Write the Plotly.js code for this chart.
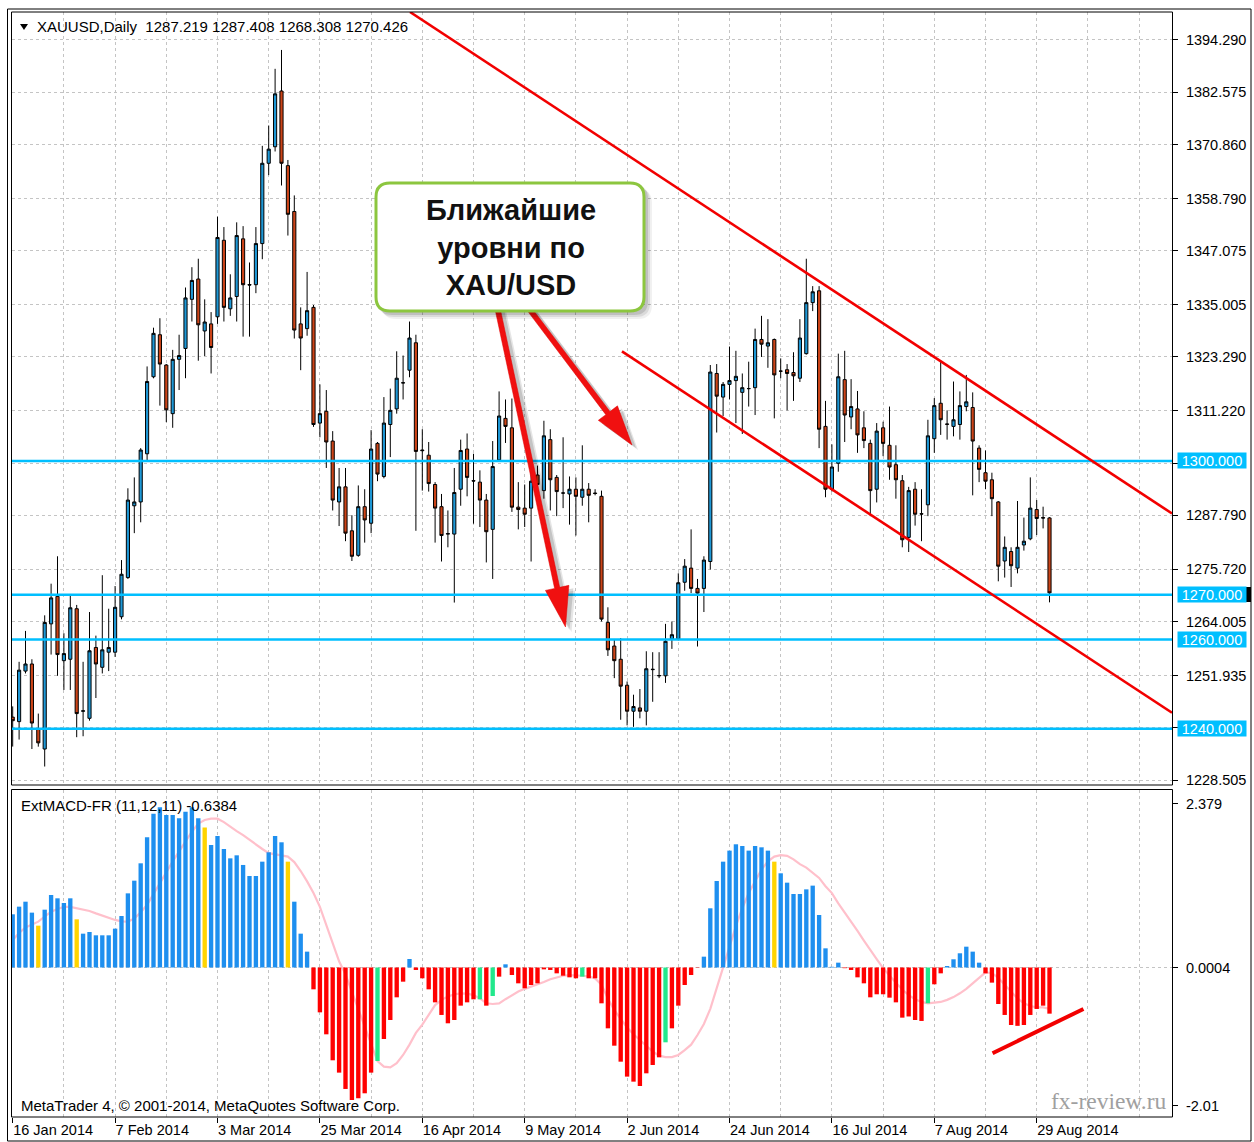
<!DOCTYPE html>
<html>
<head>
<meta charset="utf-8">
<script src="https://cdn.plot.ly/plotly-3.0.1.min.js"></script>
<style>html,body{margin:0;padding:0;background:#fff;}#chart{width:1254px;height:1142px;}</style>
</head>
<body>
<div id="chart"></div>
<script>
// ---------------- DATA ----------------
const openP = [1242.6,1241.59,1252.91,1254.50,1239.90,1235.45,1263.49,1269.63,1255.24,1255.56,1266.88,1243.92,1242.33,1258.20,1253.76,1257.14,1257.14,1265.08,1273.86,1289.94,1290.80,1301.59,1318.84,1328.26,1321.48,1310.58,1322.75,1325.19,1336.19,1340.74,1329.10,1330.69,1332.28,1349.42,1334.07,1336.83,1349.74,1339.50,1339.47,1348.68,1366.67,1370.37,1382.86,1366.14,1355.87,1330.69,1329.63,1334.39,1308.47,1311.11,1304.44,1290.80,1294.18,1284.34,1278.84,1289.74,1286.03,1303.92,1296.51,1308.15,1311.64,1317.46,1320.32,1326.46,1302.44,1301.27,1294.71,1289.74,1283.60,1283.60,1293.65,1302.65,1295.56,1295.24,1291.22,1284.66,1300.21,1309.52,1307.41,1289.63,1289.42,1289.42,1296.83,1293.34,1304.76,1296.30,1292.80,1292.59,1293.65,1291.85,1293.65,1292.80,1292.06,1263.81,1258.52,1255.56,1249.74,1243.92,1244.66,1243.92,1253.23,1251.85,1251.85,1260.10,1260.10,1272.81,1275.98,1271.43,1271.43,1277.46,1319.58,1314.29,1317.14,1317.99,1315.35,1316.19,1316.40,1327.20,1325.72,1327.20,1320.11,1320.42,1319.79,1318.52,1324.02,1335.45,1338.10,1307.73,1293.65,1299.47,1318.20,1309.84,1311.64,1307.41,1303.92,1293.65,1307.41,1303.49,1299.15,1295.56,1282.86,1293.65,1288.15,1290.16,1304.97,1312.91,1308.26,1307.73,1308.15,1312.17,1311.96,1302.86,1297.35,1295.77,1290.80,1277.57,1279.69,1275.98,1281.16,1282.54,1289.10,1287.30,1287.219];
const highP = [1245.0,1254.99,1261.91,1255.56,1243.39,1265.40,1272.49,1278.63,1261.38,1270.05,1267.73,1254.99,1266.14,1260.85,1274.39,1266.88,1271.96,1277.78,1293.86,1296.30,1302.86,1321.16,1329.84,1331.96,1321.69,1324.87,1328.26,1338.84,1343.39,1345.29,1336.19,1333.33,1354.71,1352.38,1341.80,1353.44,1352.59,1344.45,1352.38,1370.58,1375.13,1387.83,1392.06,1367.41,1359.47,1334.39,1342.33,1334.92,1317.14,1315.87,1306.67,1298.41,1298.41,1287.83,1294.50,1293.65,1306.88,1304.23,1314.29,1316.19,1324.55,1323.60,1331.22,1328.26,1307.09,1304.23,1295.24,1292.59,1288.89,1298.41,1304.76,1306.14,1301.59,1297.88,1292.59,1304.44,1315.56,1313.76,1313.97,1295.24,1294.71,1298.41,1298.94,1308.99,1307.09,1296.83,1305.29,1296.51,1296.30,1303.49,1295.03,1293.65,1293.34,1267.20,1260.10,1260.32,1250.58,1247.62,1248.89,1257.35,1257.14,1257.14,1263.49,1264.02,1274.81,1278.00,1284.66,1273.55,1278.63,1321.48,1321.69,1317.67,1325.61,1324.66,1319.58,1322.22,1329.63,1332.49,1331.75,1327.41,1322.96,1321.69,1324.34,1331.75,1345.29,1339.15,1339.15,1313.44,1303.70,1324.02,1324.66,1318.31,1315.66,1311.11,1304.76,1308.47,1308.78,1312.17,1303.49,1296.83,1294.18,1295.24,1293.65,1309.21,1314.07,1322.54,1311.32,1317.78,1315.56,1319.26,1315.35,1303.49,1302.33,1297.35,1291.01,1283.07,1280.64,1291.01,1287.30,1296.30,1291.22,1289.74,1287.408];
const lowP = [1236.0,1237.57,1252.38,1235.45,1235.98,1231.53,1256.61,1251.85,1248.68,1248.68,1238.10,1238.31,1241.80,1246.88,1252.38,1252.91,1256.09,1264.50,1273.55,1283.81,1286.24,1299.79,1318.50,1312.38,1308.68,1307.41,1315.87,1318.52,1331.22,1322.44,1323.49,1319.58,1330.69,1331.22,1332.49,1331.22,1327.83,1327.83,1337.57,1345.18,1364.02,1369.31,1361.69,1350.48,1327.41,1320.32,1328.04,1307.62,1305.29,1298.41,1288.89,1285.40,1282.01,1277.57,1278.52,1281.69,1283.81,1295.45,1296.09,1300.85,1310.58,1313.76,1318.73,1284.34,1293.34,1293.12,1281.69,1277.46,1280.64,1268.26,1289.95,1292.06,1285.93,1285.19,1277.25,1273.55,1299.79,1304.02,1288.57,1284.66,1285.19,1277.46,1289.95,1291.53,1288.89,1287.62,1289.42,1285.72,1283.28,1289.95,1286.24,1292.28,1264.02,1256.30,1251.33,1242.01,1240.74,1240.42,1242.33,1240.74,1246.03,1251.33,1250.27,1257.88,1259.79,1270.90,1270.37,1258.41,1266.14,1275.66,1306.35,1310.05,1313.76,1308.47,1306.03,1312.17,1310.27,1323.28,1320.85,1309.52,1318.52,1311.32,1313.44,1317.67,1323.81,1333.55,1302.86,1291.85,1293.12,1297.57,1304.23,1307.09,1301.80,1302.86,1287.62,1290.69,1301.06,1295.77,1291.53,1280.64,1279.58,1285.50,1282.01,1287.62,1301.80,1305.82,1304.76,1305.50,1304.76,1311.11,1292.28,1295.24,1293.65,1287.62,1273.02,1273.86,1271.75,1274.81,1279.90,1282.22,1283.39,1284.87,1268.308];
const closeP = [1241.8,1253.12,1254.50,1241.27,1236.83,1263.81,1269.31,1256.61,1256.83,1267.09,1243.39,1244.00,1257.46,1254.50,1257.67,1258.20,1267.20,1274.60,1291.22,1290.80,1302.43,1317.78,1328.57,1321.69,1311.43,1322.75,1323.60,1336.51,1340.42,1330.48,1331.11,1325.40,1350.05,1334.39,1336.51,1350.48,1339.47,1339.40,1348.68,1366.67,1369.84,1382.22,1366.67,1355.24,1329.31,1327.52,1333.65,1308.15,1310.58,1304.23,1291.22,1294.18,1283.81,1278.63,1289.74,1286.77,1302.65,1297.04,1308.47,1311.32,1318.52,1317.50,1327.52,1302.12,1302.30,1294.92,1289.42,1283.28,1283.70,1292.91,1302.33,1296.30,1295.50,1291.22,1284.13,1298.73,1310.05,1307.73,1289.63,1289.10,1288.05,1295.45,1294.71,1305.61,1295.77,1293.12,1292.80,1293.65,1292.06,1293.65,1292.28,1292.70,1264.55,1257.67,1255.24,1249.53,1243.92,1244.97,1243.92,1253.44,1253.30,1251.90,1259.58,1261.06,1272.70,1276.41,1271.43,1270.37,1277.78,1319.90,1314.50,1317.14,1317.99,1318.94,1316.40,1316.20,1327.20,1326.14,1326.46,1319.26,1320.10,1319.58,1319.05,1327.52,1335.45,1337.88,1307.09,1293.65,1298.63,1318.84,1310.27,1312.17,1305.82,1304.55,1293.34,1306.67,1303.92,1298.62,1295.77,1282.33,1293.34,1288.05,1288.10,1305.61,1312.38,1309.21,1308.20,1309.21,1312.38,1313.23,1304.44,1298.10,1295.45,1291.53,1276.41,1280.64,1276.51,1280.64,1282.01,1289.42,1287.09,1287.20,1270.426];

const macdHist = [0.772,0.883,0.955,0.796,0.607,0.839,1.052,1.004,0.936,1.004,0.699,0.491,0.515,0.467,0.467,0.467,0.564,0.747,1.076,1.260,1.512,1.889,2.232,2.325,2.213,2.213,2.165,2.262,2.325,2.165,2.030,1.778,1.909,1.720,1.584,1.628,1.488,1.328,1.328,1.536,1.672,1.909,1.817,1.536,0.955,0.491,0.230,-0.317,-0.651,-0.970,-1.347,-1.526,-1.763,-1.923,-1.899,-1.826,-1.526,-1.357,-1.038,-0.762,-0.433,-0.206,0.123,-0.036,-0.157,-0.317,-0.506,-0.689,-0.810,-0.762,-0.554,-0.506,-0.462,-0.462,-0.554,-0.414,-0.133,0.046,-0.109,-0.230,-0.302,-0.254,-0.230,-0.027,-0.036,-0.085,-0.119,-0.143,-0.157,-0.133,-0.157,-0.157,-0.520,-0.883,-1.135,-1.367,-1.584,-1.657,-1.720,-1.536,-1.415,-1.304,-1.086,-0.883,-0.554,-0.254,-0.109,-0.005,0.157,0.859,1.255,1.536,1.696,1.788,1.763,1.696,1.763,1.744,1.696,1.536,1.367,1.231,1.067,1.067,1.134,1.188,0.762,0.278,0.010,0.070,-0.010,-0.036,-0.143,-0.230,-0.433,-0.389,-0.389,-0.438,-0.506,-0.728,-0.711,-0.762,-0.776,-0.520,-0.244,-0.085,0.022,0.119,0.206,0.302,0.230,0.070,-0.085,-0.220,-0.530,-0.689,-0.835,-0.847,-0.835,-0.689,-0.602,-0.554,-0.670];
// histogram state per bar: B = up (blue), Y = weakening up (yellow), R = down (red), G = weakening down (green)
const macdState = [
  "BBBBY", "BBBBBY", "BBBBBBBBBBBBBBBBBBBY", "BBBBBBBBBBBBY", "BBB",
  "RRRRRRRRRRG", "RRRRB", "RRRRRRRRRRG", "RGRB", "RRRRRRRRRRRG", "RRRRRRRRRRRRG", "RRRRR",
  "BBBBBBBBBBBY", "BBBBBBBBBB", "RRRRRRRRRRRRRG", "RR", "BBBBBB", "RRRRRRRRRRR"
].join("").split("");
const macdSignal = [0.40,0.50,0.58,0.62,0.665,0.74,0.81,0.85,0.88,0.88,0.86,0.84,0.82,0.785,0.75,0.72,0.69,0.67,0.665,0.71,0.80,0.91,1.06,1.22,1.38,1.54,1.69,1.83,1.97,2.09,2.14,2.16,2.16,2.11,2.04,1.98,1.92,1.85,1.78,1.72,1.66,1.64,1.62,1.61,1.53,1.40,1.25,1.08,0.88,0.62,0.33,0.09,-0.10,-0.35,-0.62,-0.88,-1.12,-1.36,-1.44,-1.45,-1.39,-1.27,-1.12,-0.95,-0.83,-0.68,-0.545,-0.47,-0.42,-0.39,-0.375,-0.38,-0.40,-0.45,-0.52,-0.53,-0.52,-0.46,-0.40,-0.35,-0.31,-0.28,-0.25,-0.21,-0.17,-0.14,-0.12,-0.11,-0.11,-0.12,-0.13,-0.16,-0.25,-0.45,-0.62,-0.75,-0.87,-0.97,-1.05,-1.13,-1.22,-1.28,-1.30,-1.30,-1.27,-1.20,-1.12,-0.98,-0.82,-0.60,-0.30,0.0,0.30,0.60,0.86,1.08,1.25,1.42,1.54,1.61,1.63,1.62,1.57,1.50,1.45,1.38,1.30,1.18,1.08,0.93,0.80,0.665,0.53,0.39,0.25,0.12,-0.01,-0.12,-0.22,-0.32,-0.40,-0.46,-0.50,-0.52,-0.51,-0.50,-0.47,-0.43,-0.375,-0.31,-0.23,-0.15,-0.07,-0.08,-0.15,-0.25,-0.35,-0.45,-0.52,-0.56,-0.58,-0.58,-0.60];

const priceTicks = [1394.290,1382.575,1370.860,1358.790,1347.075,1335.005,1323.290,1311.220,1299.505,1287.790,1275.720,1264.005,1251.935,1240.220,1228.505];
const levels = [1300, 1270, 1260, 1240];
const dateLabels = ["16 Jan 2014","7 Feb 2014","3 Mar 2014","25 Mar 2014","16 Apr 2014","9 May 2014","2 Jun 2014","24 Jun 2014","16 Jul 2014","7 Aug 2014","29 Aug 2014"];
const dateLabelBars = [0,16,32,48,64,80,96,112,128,144,160];
const macdTicks = [2.379, 0, -2.01];
const macdTickText = ["2.379", "0.0004", "-2.01"];

// hand-drawn trend lines (bar index, value)
const upperTrend = {x: [62.08, 181.14], y: [1400.56, 1288.21]};
const lowerTrend = {x: [95.2, 181.14], y: [1324.53, 1243.58]};
const macdTrend = {x: [153.1, 167.3], y: [-1.245, -0.602]};

// ---------------- BUILD ----------------
const FONT = 'Liberation Sans, Arial, sans-serif';
const n = openP.length;
const idx = openP.map((_, i) => i);
const XR = [-0.109, 181.14];
const gridX = []; for (let g = 0; g <= 180; g += 8) gridX.push(g);
const stateColor = {B: '#1e8fef', Y: '#ffd400', R: '#ff0000', G: '#22e88c'};
const histColors = macdHist.map((v, i) => stateColor[macdState[i]] || (v >= 0 ? stateColor.B : stateColor.R));

// price tick labels hidden where the level labels cover them in the original
const coveredTicks = levels.map(l => priceTicks.reduce((a, b) => Math.abs(b - l) < Math.abs(a - l) ? b : a));
const priceTickText = priceTicks.map(v => coveredTicks.some(c => c === v && Math.abs(v - levels.find(l => Math.abs(l - v) < 1.5) || 99) < 1.5) ? '' : v.toFixed(3));

// pixel -> paper helpers (plot area: x 12..1172, y 12..1117)
const PL = 12, PR = 1172, PT = 12, PB = 1117;
const px = x => (x - PL) / (PR - PL);
const py = y => (PB - y) / (PB - PT);
const P = (x, y) => px(x).toFixed(5) + ',' + py(y).toFixed(5);

function rrect(x0, y0, x1, y1, r) {
  return 'M' + P(x0 + r, y0) + ' L' + P(x1 - r, y0) + ' Q' + P(x1, y0) + ' ' + P(x1, y0 + r) +
    ' L' + P(x1, y1 - r) + ' Q' + P(x1, y1) + ' ' + P(x1 - r, y1) +
    ' L' + P(x0 + r, y1) + ' Q' + P(x0, y1) + ' ' + P(x0, y1 - r) +
    ' L' + P(x0, y0 + r) + ' Q' + P(x0, y0) + ' ' + P(x0 + r, y0) + ' Z';
}
function arrowPath(tail, tip, hl, hw, sw, dx, dy) {
  dx = dx || 0; dy = dy || 0;
  const vx = tip[0] - tail[0], vy = tip[1] - tail[1];
  const L = Math.hypot(vx, vy), ux = vx / L, uy = vy / L, nx = uy, ny = -ux;
  const bx = tip[0] - hl * ux, by = tip[1] - hl * uy;
  const pts = [
    [tail[0] + sw * nx, tail[1] + sw * ny], [bx + sw * nx, by + sw * ny], [bx + hw * nx, by + hw * ny],
    [tip[0], tip[1]], [bx - hw * nx, by - hw * ny], [bx - sw * nx, by - sw * ny], [tail[0] - sw * nx, tail[1] - sw * ny]
  ];
  return 'M' + pts.map(p => P(p[0] + dx, p[1] + dy)).join(' L') + ' Z';
}

const traces = [
  {
    type: 'candlestick', x: idx, open: openP, high: highP, low: lowP, close: closeP,
    xaxis: 'x', yaxis: 'y', whiskerwidth: 0,
    increasing: {line: {color: '#000', width: 1}, fillcolor: '#1e98d6'},
    decreasing: {line: {color: '#000', width: 1}, fillcolor: '#cc4418'},
    hoverinfo: 'skip', showlegend: false
  },
  {
    type: 'scatter', mode: 'lines', x: idx, y: macdSignal, xaxis: 'x2', yaxis: 'y2',
    line: {color: '#ffc0cb', width: 2.2}, hoverinfo: 'skip', showlegend: false
  },
  {
    type: 'bar', x: idx, y: macdHist, xaxis: 'x3', yaxis: 'y3', width: 0.68,
    marker: {color: histColors, line: {width: 0}}, hoverinfo: 'skip', showlegend: false
  }
];

const gridStyle = {showgrid: true, gridcolor: '#c4c4c4', griddash: '3px,3px', gridwidth: 1, zeroline: false};
const shapes = [];
// zero line of MACD
shapes.push({type: 'line', xref: 'paper', yref: 'y2', x0: 0, x1: 1, y0: 0, y1: 0, layer: 'below', line: {color: '#c4c4c4', width: 1, dash: '3px,3px'}});
// support / resistance levels
levels.forEach(v => shapes.push({type: 'line', xref: 'paper', yref: 'y', x0: 0, x1: 1, y0: v, y1: v, line: {color: '#00bfff', width: 2.5}}));
// trend channel
[upperTrend, lowerTrend].forEach(t => shapes.push({type: 'line', xref: 'x', yref: 'y', x0: t.x[0], x1: t.x[1], y0: t.y[0], y1: t.y[1], line: {color: '#f20000', width: 2.6}}));
shapes.push({type: 'line', xref: 'x2', yref: 'y2', x0: macdTrend.x[0], x1: macdTrend.x[1], y0: macdTrend.y[0], y1: macdTrend.y[1], line: {color: '#f20000', width: 4}});
// frames
shapes.push({type: 'rect', xref: 'paper', yref: 'paper', x0: px(7.5), x1: px(1251), y0: py(1141), y1: py(9), line: {color: '#000', width: 1}});
shapes.push({type: 'rect', xref: 'paper', yref: 'paper', x0: px(11.5), x1: px(1172.5), y0: py(785), y1: py(12), line: {color: '#000', width: 1}});
shapes.push({type: 'rect', xref: 'paper', yref: 'paper', x0: px(11.5), x1: px(1172.5), y0: py(1117), y1: py(789.5), line: {color: '#000', width: 1}});
// current price marker (partially hidden label)
shapes.push({type: 'rect', xref: 'paper', yref: 'paper', x0: px(1245), x1: px(1251), y0: py(602), y1: py(587), fillcolor: '#000', line: {width: 0}});
// header triangle
shapes.push({type: 'path', xref: 'paper', yref: 'paper', path: 'M' + P(20, 24) + ' L' + P(28, 24) + ' L' + P(24, 30) + ' Z', fillcolor: '#000', line: {width: 0}});
// arrows with soft shadow
const arrows = [{tail: [497, 306], tip: [565.5, 627]}, {tail: [527, 306], tip: [632, 445]}];
arrows.forEach(a => {
  [[6, 5, 0.10], [4, 3, 0.14]].forEach(s => shapes.push({type: 'path', xref: 'paper', yref: 'paper', path: arrowPath(a.tail, a.tip, 40, 12.5, 3, s[0], s[1]), fillcolor: 'rgba(0,0,0,' + s[2] + ')', line: {width: 0}}));
  shapes.push({type: 'path', xref: 'paper', yref: 'paper', path: arrowPath(a.tail, a.tip, 40, 12, 2.6), fillcolor: '#f01010', line: {color: '#e00000', width: 0.5}});
});
// callout box with shadow
[[7, 0.06], [5, 0.09], [3, 0.12]].forEach(s => shapes.push({type: 'path', xref: 'paper', yref: 'paper', path: rrect(375 + s[0], 182 + s[0], 645 + s[0], 312 + s[0], 14), fillcolor: 'rgba(0,0,0,' + s[1] + ')', line: {width: 0}}));
shapes.push({type: 'path', xref: 'paper', yref: 'paper', path: rrect(376, 183, 644, 311, 14), fillcolor: '#ffffff', line: {color: '#8cc63f', width: 3}});

const annotations = [];
annotations.push({xref: 'paper', yref: 'paper', x: px(35), y: py(27), xanchor: 'left', yanchor: 'middle', showarrow: false,
  text: 'XAUUSD,Daily\u00a0 ' + [openP[n - 1], highP[n - 1], lowP[n - 1], closeP[n - 1]].map(v => v.toFixed(3)).join(' '),
  font: {family: FONT, size: 15, color: '#000'}});
annotations.push({xref: 'paper', yref: 'paper', x: px(19), y: py(805), xanchor: 'left', yanchor: 'middle', showarrow: false,
  text: 'ExtMACD-FR (11,12,11) -0.6384', font: {family: FONT, size: 15, color: '#000'}});
annotations.push({xref: 'paper', yref: 'paper', x: px(19), y: py(1105), xanchor: 'left', yanchor: 'middle', showarrow: false,
  text: 'MetaTrader 4, © 2001-2014, MetaQuotes Software Corp.', font: {family: FONT, size: 15, color: '#000'}});
annotations.push({xref: 'paper', yref: 'paper', x: px(1169), y: py(1101), xanchor: 'right', yanchor: 'middle', showarrow: false,
  text: 'fx-review.ru', font: {family: 'Liberation Serif, Times New Roman, serif', size: 23.5, color: '#a0a0a0'}});
annotations.push({xref: 'paper', yref: 'paper', x: px(511), y: py(247), xanchor: 'center', yanchor: 'middle', showarrow: false,
  text: '<b>Ближайшие<br>уровни по<br>XAU/USD</b>', align: 'center', font: {family: FONT, size: 29, color: '#111'}});
levels.forEach(v => annotations.push({xref: 'paper', yref: 'y', x: px(1177), y: v, xanchor: 'left', yanchor: 'middle', showarrow: false,
  text: v.toFixed(3), bgcolor: '#00bfff', width: 68, height: 15, borderpad: 0, align: 'center',
  font: {family: FONT, size: 14.5, color: '#ffffff'}}));

const layout = {
  width: 1254, height: 1142, margin: {l: PL, r: 1254 - PR, t: PT, b: 1142 - PB, pad: 0},
  paper_bgcolor: '#ffffff', plot_bgcolor: '#ffffff', showlegend: false, hovermode: false, dragmode: false,
  font: {family: FONT, size: 14.5, color: '#000'},
  xaxis: Object.assign({domain: [0, 1], anchor: 'y', range: XR, tickvals: gridX, showticklabels: false, ticks: '',
    showline: false, fixedrange: true, rangeslider: {visible: false}}, gridStyle),
  yaxis: Object.assign({domain: [py(785), 1], anchor: 'x', side: 'right', range: [1227.39, 1400.56],
    tickvals: priceTicks, ticktext: priceTickText, ticks: 'outside', ticklen: 5, tickcolor: '#000',
    ticklabelstandoff: 5, showline: false, fixedrange: true, tickfont: {family: FONT, size: 14.5, color: '#000'}}, gridStyle),
  xaxis2: Object.assign({domain: [0, 1], anchor: 'y2', range: XR, tickvals: gridX, showticklabels: false, ticks: '',
    showline: false, fixedrange: true}, gridStyle),
  yaxis2: {domain: [0, py(790)], anchor: 'x2', side: 'right', range: [-2.170, 2.576], tickvals: macdTicks, ticktext: macdTickText,
    ticks: 'outside', ticklen: 5, tickcolor: '#000', ticklabelstandoff: 5, showgrid: false, zeroline: false, showline: false,
    fixedrange: true, tickfont: {family: FONT, size: 14.5, color: '#000'}},
  xaxis3: {overlaying: 'x2', anchor: 'y2', side: 'bottom', range: XR, tickvals: dateLabelBars, ticktext: dateLabels,
    ticks: 'outside', ticklen: 5, tickcolor: '#000', ticklabelposition: 'outside right', showgrid: false, zeroline: false,
    showline: false, fixedrange: true, tickfont: {family: FONT, size: 14.5, color: '#000'}},
  yaxis3: {overlaying: 'y2', anchor: 'x3', side: 'right', range: [-2.170, 2.576], showticklabels: false, ticks: '',
    showgrid: false, zeroline: false, showline: false, fixedrange: true},
  shapes: shapes, annotations: annotations
};

Plotly.newPlot('chart', traces, layout, {staticPlot: true, displayModeBar: false});
</script>
</body>
</html>
